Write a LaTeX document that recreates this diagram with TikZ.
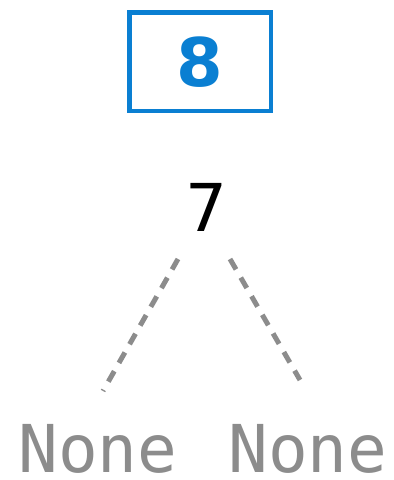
\documentclass[tikz,border=0pt]{standalone}
\usepackage{fontspec}
\setmainfont{DejaVu Sans}
\newfontfamily\monofont{DejaVu Sans Mono}
\definecolor{keyblue}{HTML}{0A7FD2}
\definecolor{nilgray}{HTML}{8C8C8C}
\begin{document}
\begin{tikzpicture}[x=1pt,y=-1pt,
  keybox/.style={draw=keyblue,line width=4.5pt,minimum width=141.5pt,minimum height=98.5pt,inner sep=0pt},
  keytext/.style={text=keyblue,font=\fontsize{67}{67}\selectfont\bfseries,anchor=base,inner sep=0pt},
  valtext/.style={text=black,font=\fontsize{66}{66}\selectfont,anchor=base,inner sep=0pt},
  niltext/.style={text=nilgray,font=\monofont\fontsize{66}{66}\selectfont,anchor=base,inner sep=0pt,text depth=0pt},
  edge/.style={draw=nilgray,line width=5pt,dash pattern=on 12pt off 9.5pt}]
\useasboundingbox (0,0) rectangle (394,480);
% key box
\node[keybox] (box) at (200,61.5) {};
\node[keytext] (key) at (200,86) {8};
% value and children
\node[valtext] (val) at (206,231) {7};
\node[niltext] (nilL) at (98,472) {None};
\node[niltext] (nilR) at (308,472) {None};
% dashed links
\coordinate (lTop) at (178,259);
\coordinate (lEnd) at (103,391);
\coordinate (rTop) at (230,259);
\coordinate (rEnd) at (300,380);
\draw[edge] (lTop) -- (lEnd);
\draw[edge] (rTop) -- (rEnd);
\end{tikzpicture}
\end{document}
